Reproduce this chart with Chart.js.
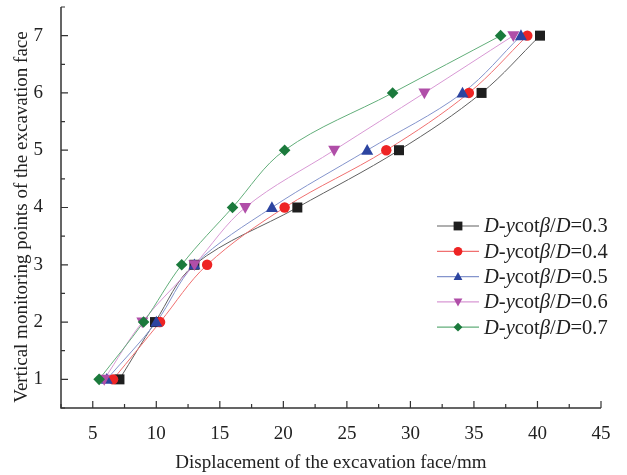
<!DOCTYPE html>
<html>
<head>
<meta charset="utf-8">
<script src="https://cdn.jsdelivr.net/npm/chart.js@4.4.0/dist/chart.umd.min.js"></script>
<style>
  html, body { margin: 0; padding: 0; background: #fff; }
  #wrap { width: 627px; height: 475px; }
</style>
</head>
<body>
<div id="wrap"><canvas id="chart" width="627" height="475"></canvas></div>
<script>
// monitoring point levels (y) and displacement per ratio (x, mm)
const levels = [1, 2, 3, 4, 5, 6, 7];
const ratios = ['0.3', '0.4', '0.5', '0.6', '0.7'];
const disp03 = [7.1, 9.9, 13.0, 21.1, 29.1, 35.6, 40.2];
const disp04 = [6.6, 10.3, 14.0, 20.1, 28.1, 34.6, 39.2];
const disp05 = [6.1, 10.0, 13.0, 19.1, 26.6, 34.1, 38.7];
const disp06 = [5.9, 8.9, 13.0, 17.0, 24.0, 31.1, 38.1];
const disp07 = [5.5, 9.0, 12.0, 16.0, 20.1, 28.6, 37.1];
const xTicks = [5, 10, 15, 20, 25, 30, 35, 40, 45];
const yTicks = [1, 2, 3, 4, 5, 6, 7];

const seriesDisp = [disp03, disp04, disp05, disp06, disp07];
const markerColors = ['#1e1e1e', '#ee2424', '#2c44a0', '#b04ea8', '#1b7a3c'];
const lineColors = ['#606060', '#f07070', '#8494cc', '#d898d4', '#62ae7a'];
const shapes = ['rect', 'circle', 'triangle', 'triangleDown', 'rectRot'];
const sizes = [5, 5.2, 6, 6, 5.8];

const FONT = '"Liberation Serif", "Times New Roman", serif';

// draw one marker shape on the canvas
function drawMarker(ctx, shape, x, y, r, color) {
    ctx.save();
    ctx.fillStyle = color;
    ctx.beginPath();
    if (shape === 'rect') {
        ctx.rect(x - r, y - r, 2 * r, 2 * r);
    } else if (shape === 'circle') {
        ctx.arc(x, y, r, 0, Math.PI * 2);
    } else if (shape === 'triangle') {
        ctx.moveTo(x, y - r * 1.05);
        ctx.lineTo(x + r, y + r * 0.75);
        ctx.lineTo(x - r, y + r * 0.75);
    } else if (shape === 'triangleDown') {
        ctx.moveTo(x, y + r * 1.05);
        ctx.lineTo(x + r, y - r * 0.75);
        ctx.lineTo(x - r, y - r * 0.75);
    } else if (shape === 'rectRot') {
        ctx.moveTo(x, y - r);
        ctx.lineTo(x + r, y);
        ctx.lineTo(x, y + r);
        ctx.lineTo(x - r, y);
    }
    ctx.closePath();
    ctx.fill();
    ctx.restore();
}

const datasets = seriesDisp.map((arr, i) => ({
    label: 'D-ycotβ/D=' + ratios[i],
    data: arr.map((v, k) => ({ x: v, y: levels[k] })),
    showLine: true,
    borderColor: lineColors[i],
    borderWidth: 1,
    tension: 0.35,
    pointStyle: false,
    order: 5 - i
}));

// axes, inward ticks, titles and a legend with mixed italic text
const decorPlugin = {
    id: 'decor',
    afterDatasetsDraw(chart) {
        const ctx = chart.ctx;
        const xs = chart.scales.x, ys = chart.scales.y;
        // markers on top of the curves, in series order
        seriesDisp.forEach((arr, i) => {
            arr.forEach((v, k) => {
                drawMarker(ctx, shapes[i], xs.getPixelForValue(v), ys.getPixelForValue(levels[k]), sizes[i], markerColors[i]);
            });
        });
    },
    afterDraw(chart) {
        const ctx = chart.ctx;
        const xs = chart.scales.x, ys = chart.scales.y;
        const area = chart.chartArea;
        ctx.save();
        ctx.strokeStyle = '#333';
        ctx.lineWidth = 1.5;
        ctx.beginPath();
        ctx.moveTo(area.left, area.top);
        ctx.lineTo(area.left, area.bottom);
        ctx.lineTo(area.right, area.bottom);
        ctx.stroke();

        ctx.lineWidth = 1.2;
        ctx.beginPath();
        for (let v = 2.5; v <= 45.001; v += 2.5) {
            const px = xs.getPixelForValue(v);
            const len = (v % 5 === 0) ? 7 : 4;
            ctx.moveTo(px, area.bottom);
            ctx.lineTo(px, area.bottom - len);
        }
        for (let v = 0.5; v <= 7.501; v += 0.5) {
            const py = ys.getPixelForValue(v);
            const len = (v % 1 === 0) ? 7 : 4;
            ctx.moveTo(area.left, py);
            ctx.lineTo(area.left + len, py);
        }
        ctx.stroke();

        // axis titles
        ctx.fillStyle = '#222';
        ctx.font = '19px ' + FONT;
        ctx.textAlign = 'center';
        ctx.textBaseline = 'middle';
        ctx.fillText('Displacement of the excavation face/mm', 331, 463);
        ctx.save();
        ctx.translate(22, 217);
        ctx.rotate(-Math.PI / 2);
        ctx.fillText('Vertical monitoring points of the excavation face', 0, 0);
        ctx.restore();

        // legend
        const lx = 437, ly = 226, gap = 25.3;
        ratios.forEach((r, i) => {
            const y = ly + i * gap;
            ctx.strokeStyle = lineColors[i];
            ctx.lineWidth = 1.2;
            ctx.beginPath();
            ctx.moveTo(lx, y);
            ctx.lineTo(lx + 42, y);
            ctx.stroke();
            drawMarker(ctx, shapes[i], lx + 21, y, 4.4, markerColors[i]);
            const parts = [['D', 1], ['-', 0], ['y', 1], ['cot', 0], ['β', 1], ['/', 0], ['D', 1], ['=' + r, 0]];
            let tx = lx + 47;
            ctx.fillStyle = '#222';
            ctx.textAlign = 'left';
            ctx.textBaseline = 'middle';
            parts.forEach(p => {
                ctx.font = (p[1] ? 'italic ' : '') + '20.5px ' + FONT;
                ctx.fillText(p[0], tx, y + 1);
                tx += ctx.measureText(p[0]).width;
            });
        });
        ctx.restore();
    }
};

new Chart(document.getElementById('chart'), {
    type: 'scatter',
    data: { datasets: datasets },
    options: {
        responsive: false,
        animation: false,
        layout: { padding: { top: 7, right: 26, left: 0, bottom: 0 } },
        plugins: { legend: { display: false }, tooltip: { enabled: false } },
        scales: {
            x: {
                type: 'linear',
                min: 2.5,
                max: 45,
                afterBuildTicks: s => { s.ticks = xTicks.map(v => ({ value: v })); },
                afterFit: s => { s.height = 67; },
                grid: { display: false },
                border: { display: false },
                ticks: { color: '#222', font: { family: FONT, size: 19 }, padding: 7, maxRotation: 0 }
            },
            y: {
                type: 'linear',
                min: 0.5,
                max: 7.5,
                afterBuildTicks: s => { s.ticks = yTicks.map(v => ({ value: v })); },
                afterFit: s => { s.width = 61; s.paddingTop = 0; s.paddingBottom = 0; },
                grid: { display: false },
                border: { display: false },
                ticks: { color: '#222', font: { family: FONT, size: 19 }, padding: 10 }
            }
        }
    },
    plugins: [decorPlugin]
});
</script>
</body>
</html>
